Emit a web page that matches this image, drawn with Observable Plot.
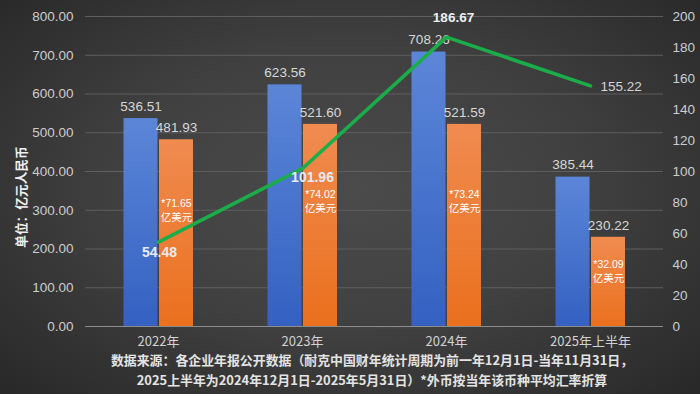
<!DOCTYPE html>
<html>
<head>
<meta charset="utf-8">
<script src="https://cdn.jsdelivr.net/npm/d3@7"></script>
<script src="https://cdn.jsdelivr.net/npm/@observablehq/plot@0.6"></script>
<style>
html,body{margin:0;padding:0;width:700px;height:394px;overflow:hidden;}
body{background:radial-gradient(ellipse 75% 80% at 50% 48%, #4b4b4b 0%, #404040 45%, #2c2c2c 85%, #252525 100%);position:relative;font-family:"Liberation Sans","Noto Sans CJK SC",sans-serif;}
#chart{position:absolute;left:0;top:0;}
#ytitle{position:absolute;left:14px;top:146px;width:14px;height:102px;display:flex;align-items:center;justify-content:center;}
#ytitle span{display:block;transform:rotate(-90deg);white-space:nowrap;color:#f0f0f0;font-family:"Noto Sans CJK SC",sans-serif;font-weight:bold;font-size:12.7px;line-height:14px;}
#cap{position:absolute;top:350px;left:22px;width:700px;text-align:center;color:#e4e4e4;font-family:"Noto Sans CJK SC",sans-serif;font-weight:bold;font-size:12.9px;line-height:20px;}
</style>
</head>
<body>
<div id="chart"></div>
<div id="ytitle"><span id="ytext"></span></div>
<div id="cap">数据来源：各企业年报公开数据（耐克中国财年统计周期为前一年12月1日-当年11月31日，<br>2025上半年为2024年12月1日-2025年5月31日）*外币按当年该币种平均汇率折算</div>
<script>
const years = ["2022年", "2023年", "2024年", "2025年上半年"];
const seriesBlue = [536.51, 623.56, 708.26, 385.44];
const seriesOrange = [481.93, 521.60, 521.59, 230.22];
const usdNotes = ["*71.65", "*74.02", "*73.24", "*32.09"];
const lineSeries = [54.48, 101.96, 186.67, 155.22];
const leftTicks = [0, 100, 200, 300, 400, 500, 600, 700, 800];
const rightTicks = [0, 20, 40, 60, 80, 100, 120, 140, 160, 180, 200];
const yTitle = "单位：亿元人民币";

document.getElementById("ytext").textContent = yTitle;

const ratio = 800 / 200; // right axis maps onto left axis
const data = years.map((y, i) => ({year: y, a: seriesBlue[i], b: seriesOrange[i], note: usdNotes[i], p: lineSeries[i], i}));

const numFont = "Liberation Sans, Noto Sans CJK SC, sans-serif";

const plot = Plot.plot({
  width: 700,
  height: 350,
  marginLeft: 85,
  marginRight: 37,
  marginTop: 16,
  marginBottom: 24,
  style: {background: "transparent", fontFamily: numFont, overflow: "visible"},
  x: {type: "band", domain: years, padding: 0, axis: null},
  y: {domain: [0, 800], axis: null},
  marks: [
    Plot.gridY(leftTicks, {stroke: "#5f5f5f", strokeOpacity: 1, strokeWidth: 1}),
    Plot.ruleY([0], {stroke: "#8c8c8c", strokeWidth: 1.2}),
    Plot.axisY(leftTicks, {anchor: "left", tickSize: 0, tickPadding: 12, tickFormat: d => d.toFixed(2), fill: "#cdcdcd", fontSize: 13.5, label: null}),
    Plot.axisY(rightTicks.map(d => d * ratio), {anchor: "right", tickSize: 0, tickPadding: 9, tickFormat: d => String(d / ratio), fill: "#cdcdcd", fontSize: 13.5, label: null}),
    Plot.axisX(years, {tickSize: 0, tickPadding: 10, fill: "#d2d2d2", fontSize: 13, fontFamily: "Noto Sans CJK SC, sans-serif", label: null}),
    Plot.barY(data, {x: "year", y: "a", fill: "url(#gBlue)", insetLeft: 37.5, insetRight: 72.5}),
    Plot.barY(data, {x: "year", y: "b", fill: "url(#gOrange)", insetLeft: 73, insetRight: 37}),
    Plot.text(data, {x: "year", y: "a", text: d => d.a.toFixed(2), dx: -17.5, dy: -12, fill: "#d8d8d8", fontSize: 13.5}),
    Plot.text(data, {x: "year", y: "b", text: d => d.b.toFixed(2), dx: 18, dy: -12, fill: "#d8d8d8", fontSize: 13.5}),
    Plot.text(data, {x: "year", y: d => d.b * 0.62, text: d => d.note, dx: 18, dy: -7, fill: "#ffffff", fontSize: 10.5}),
    Plot.text(data, {x: "year", y: d => d.b * 0.62, text: () => "亿美元", dx: 18, dy: 7, fill: "#ffffff", fontSize: 10.5, fontFamily: "Noto Sans CJK SC, sans-serif"}),
    Plot.line(data, {x: "year", y: d => d.p * ratio, stroke: "#1aad4a", strokeWidth: 3.6, style: "filter: drop-shadow(0px 2px 2px rgba(0,0,0,0.45))"}),
    Plot.text(data.filter(d => d.i === 0), {x: "year", y: d => d.p * ratio, text: d => d.p.toFixed(2), dx: 1, dy: 10, fill: "#e4ebf7", fontSize: 14, fontWeight: "bold"}),
    Plot.text(data.filter(d => d.i === 1), {x: "year", y: d => d.p * ratio, text: d => d.p.toFixed(2), dx: 10, dy: 9, fill: "#e4ebf7", fontSize: 14, fontWeight: "bold"}),
    Plot.text(data.filter(d => d.i === 2), {x: "year", y: d => d.p * ratio, text: d => d.p.toFixed(2), dx: 7, dy: -19, fill: "#eeeeee", fontSize: 13.5, fontWeight: "bold"}),
    Plot.text(data.filter(d => d.i === 3), {x: "year", y: d => d.p * ratio, text: d => d.p.toFixed(2), dx: 10, dy: 1, textAnchor: "start", fill: "#d4d4d4", fontSize: 13.5})
  ]
});

const svg = d3.select(plot);
const defs = svg.insert("defs", ":first-child");
const gb = defs.append("linearGradient").attr("id", "gBlue").attr("x1", 0).attr("y1", 0).attr("x2", 0).attr("y2", 1);
gb.append("stop").attr("offset", "0%").attr("stop-color", "#5b86d8");
gb.append("stop").attr("offset", "100%").attr("stop-color", "#3461c2");
const go = defs.append("linearGradient").attr("id", "gOrange").attr("x1", 0).attr("y1", 0).attr("x2", 0).attr("y2", 1);
go.append("stop").attr("offset", "0%").attr("stop-color", "#f08b50");
go.append("stop").attr("offset", "100%").attr("stop-color", "#ea701d");

document.getElementById("chart").appendChild(plot);
</script>
</body>
</html>
